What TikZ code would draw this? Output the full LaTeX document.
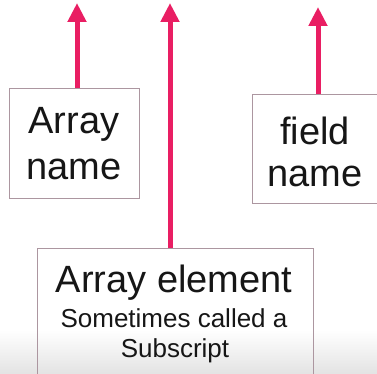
\documentclass[tikz,border=0pt]{standalone}
\usepackage{fontspec}
\setmainfont{Liberation Sans}
\usetikzlibrary{arrows.meta}
\definecolor{arrowpink}{RGB}{233,30,99}
\definecolor{boxline}{RGB}{172,150,160}
\definecolor{inktext}{RGB}{22,22,22}
\tikzset{
  x=1pt, y=1pt,
  labelbox/.style={draw=boxline, line width=1.2pt, rectangle, inner sep=0pt, anchor=north west},
  bigtext/.style={anchor=base, inner sep=0pt, text=inktext, font=\fontsize{38}{44}\selectfont},
  smalltext/.style={anchor=base, inner sep=0pt, text=inktext, font=\fontsize{26}{30}\selectfont},
  pointer/.style={draw=arrowpink, line width=5pt, -{Triangle[length=19pt,width=18pt]}}
}
\begin{document}
\begin{tikzpicture}
  \useasboundingbox (0,0) rectangle (377,374);
  \clip (0,0) rectangle (377,374);
  % soft grey band along the bottom edge
  \shade[top color=white, bottom color=black!11] (0,0) rectangle (377,44);

  % clipped line of code at the top
  \node[bigtext] (codeline) at (170,381) {(\hspace{23pt})};

  % label boxes
  \node[labelbox, minimum width=130pt, minimum height=110pt] (namebox) at (9,286) {};
  \node[labelbox, minimum width=150pt, minimum height=109pt] (fieldbox) at (252,280) {};
  \node[labelbox, minimum width=276pt, minimum height=160pt] (elembox) at (37,126) {};

  % box texts
  \node[bigtext] (name1) at (74,240) {Array};
  \node[bigtext] (name2) at (74,194) {name};
  \node[bigtext] (field1) at (315,229) {field};
  \node[bigtext] (field2) at (315,187) {name};
  \node[bigtext] (elem1) at (174,81) {Array element};
  \node[smalltext] (elem2) at (174,46) {Sometimes called a};
  \node[smalltext] (elem3) at (175,16) {Subscript};

  % arrow tips
  \coordinate (tipname) at (77,371);
  \coordinate (tipelem) at (170,371);
  \coordinate (tipfield) at (318,367);

  % arrows
  \draw[pointer] (namebox.north -| tipname) -- (tipname);
  \draw[pointer] (elembox.north -| tipelem) -- (tipelem);
  \draw[pointer] (fieldbox.north -| tipfield) -- (tipfield);
\end{tikzpicture}
\end{document}
